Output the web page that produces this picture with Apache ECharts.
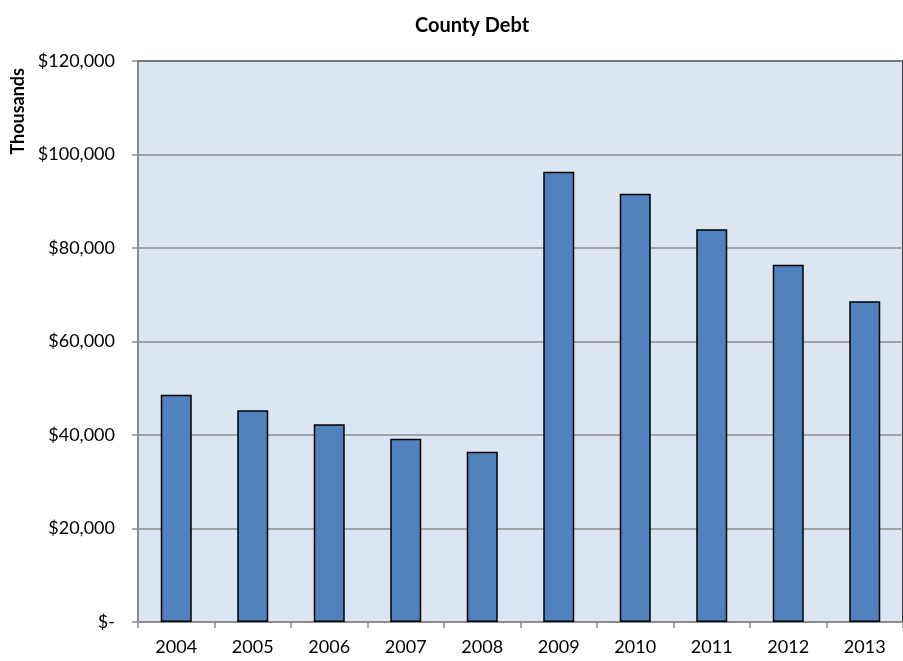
<!DOCTYPE html>
<html><head><meta charset="utf-8">
<script src="https://cdn.jsdelivr.net/npm/echarts@6/dist/echarts.min.js"></script>
<style>html,body{margin:0;padding:0;background:#fff}#c{width:903px;height:661px}</style>
</head><body><div id="c"></div>
<script>
var categories = ['2004','2005','2006','2007','2008','2009','2010','2011','2012','2013'];
var debtValues = [48600, 45300, 42300, 39200, 36400, 96300, 91600, 84000, 76400, 68600];
var yTicks = [0, 20000, 40000, 60000, 80000, 100000, 120000];

var font = 'Lato, "Open Sans", sans-serif';
var chart = echarts.init(document.getElementById('c'));
chart.setOption({
  animation: false,
  title: {
    text: 'County Debt', left: 467, top: 11, textAlign: 'center',
    textStyle: {fontFamily: font, fontSize: 20, fontWeight: 'bold', color: '#000'}
  },
  grid: {
    left: 138, top: 61, width: 773, height: 561,
    show: true, backgroundColor: '#DCE6F2', borderColor: '#000', borderWidth: 1.5
  },
  xAxis: {
    type: 'category', data: categories,
    axisLine: {lineStyle: {color: '#8c8c8c', width: 2}},
    axisTick: {show: true, length: 6, lineStyle: {color: '#8c8c8c', width: 1.5}},
    axisLabel: {fontFamily: font, fontSize: 18, color: '#000', margin: 16}
  },
  yAxis: {
    type: 'value', min: yTicks[0], max: yTicks[yTicks.length - 1], interval: 20000,
    axisLine: {show: true, lineStyle: {color: '#8c8c8c', width: 2}},
    axisTick: {show: true, inside: false, length: 6, lineStyle: {color: '#8c8c8c', width: 1.5}},
    splitLine: {lineStyle: {color: '#8c8c8c', width: 1.5}},
    axisLabel: {
      fontFamily: font, fontSize: 18, color: '#000', margin: 23,
      formatter: function (v) { return v === 0 ? '$-' : '$' + v.toLocaleString('en-US'); }
    }
  },
  graphic: [{
    type: 'text', left: 9, top: 68, rotation: Math.PI / 2,
    style: {text: 'Thousands', fontFamily: font, fontSize: 18, fontWeight: 'bold', fill: '#000'}
  }],
  series: [{
    type: 'bar', data: debtValues, barWidth: 31,
    itemStyle: {color: '#4F81BD', borderColor: '#000', borderWidth: 1.5}
  }]
});
</script></body></html>
